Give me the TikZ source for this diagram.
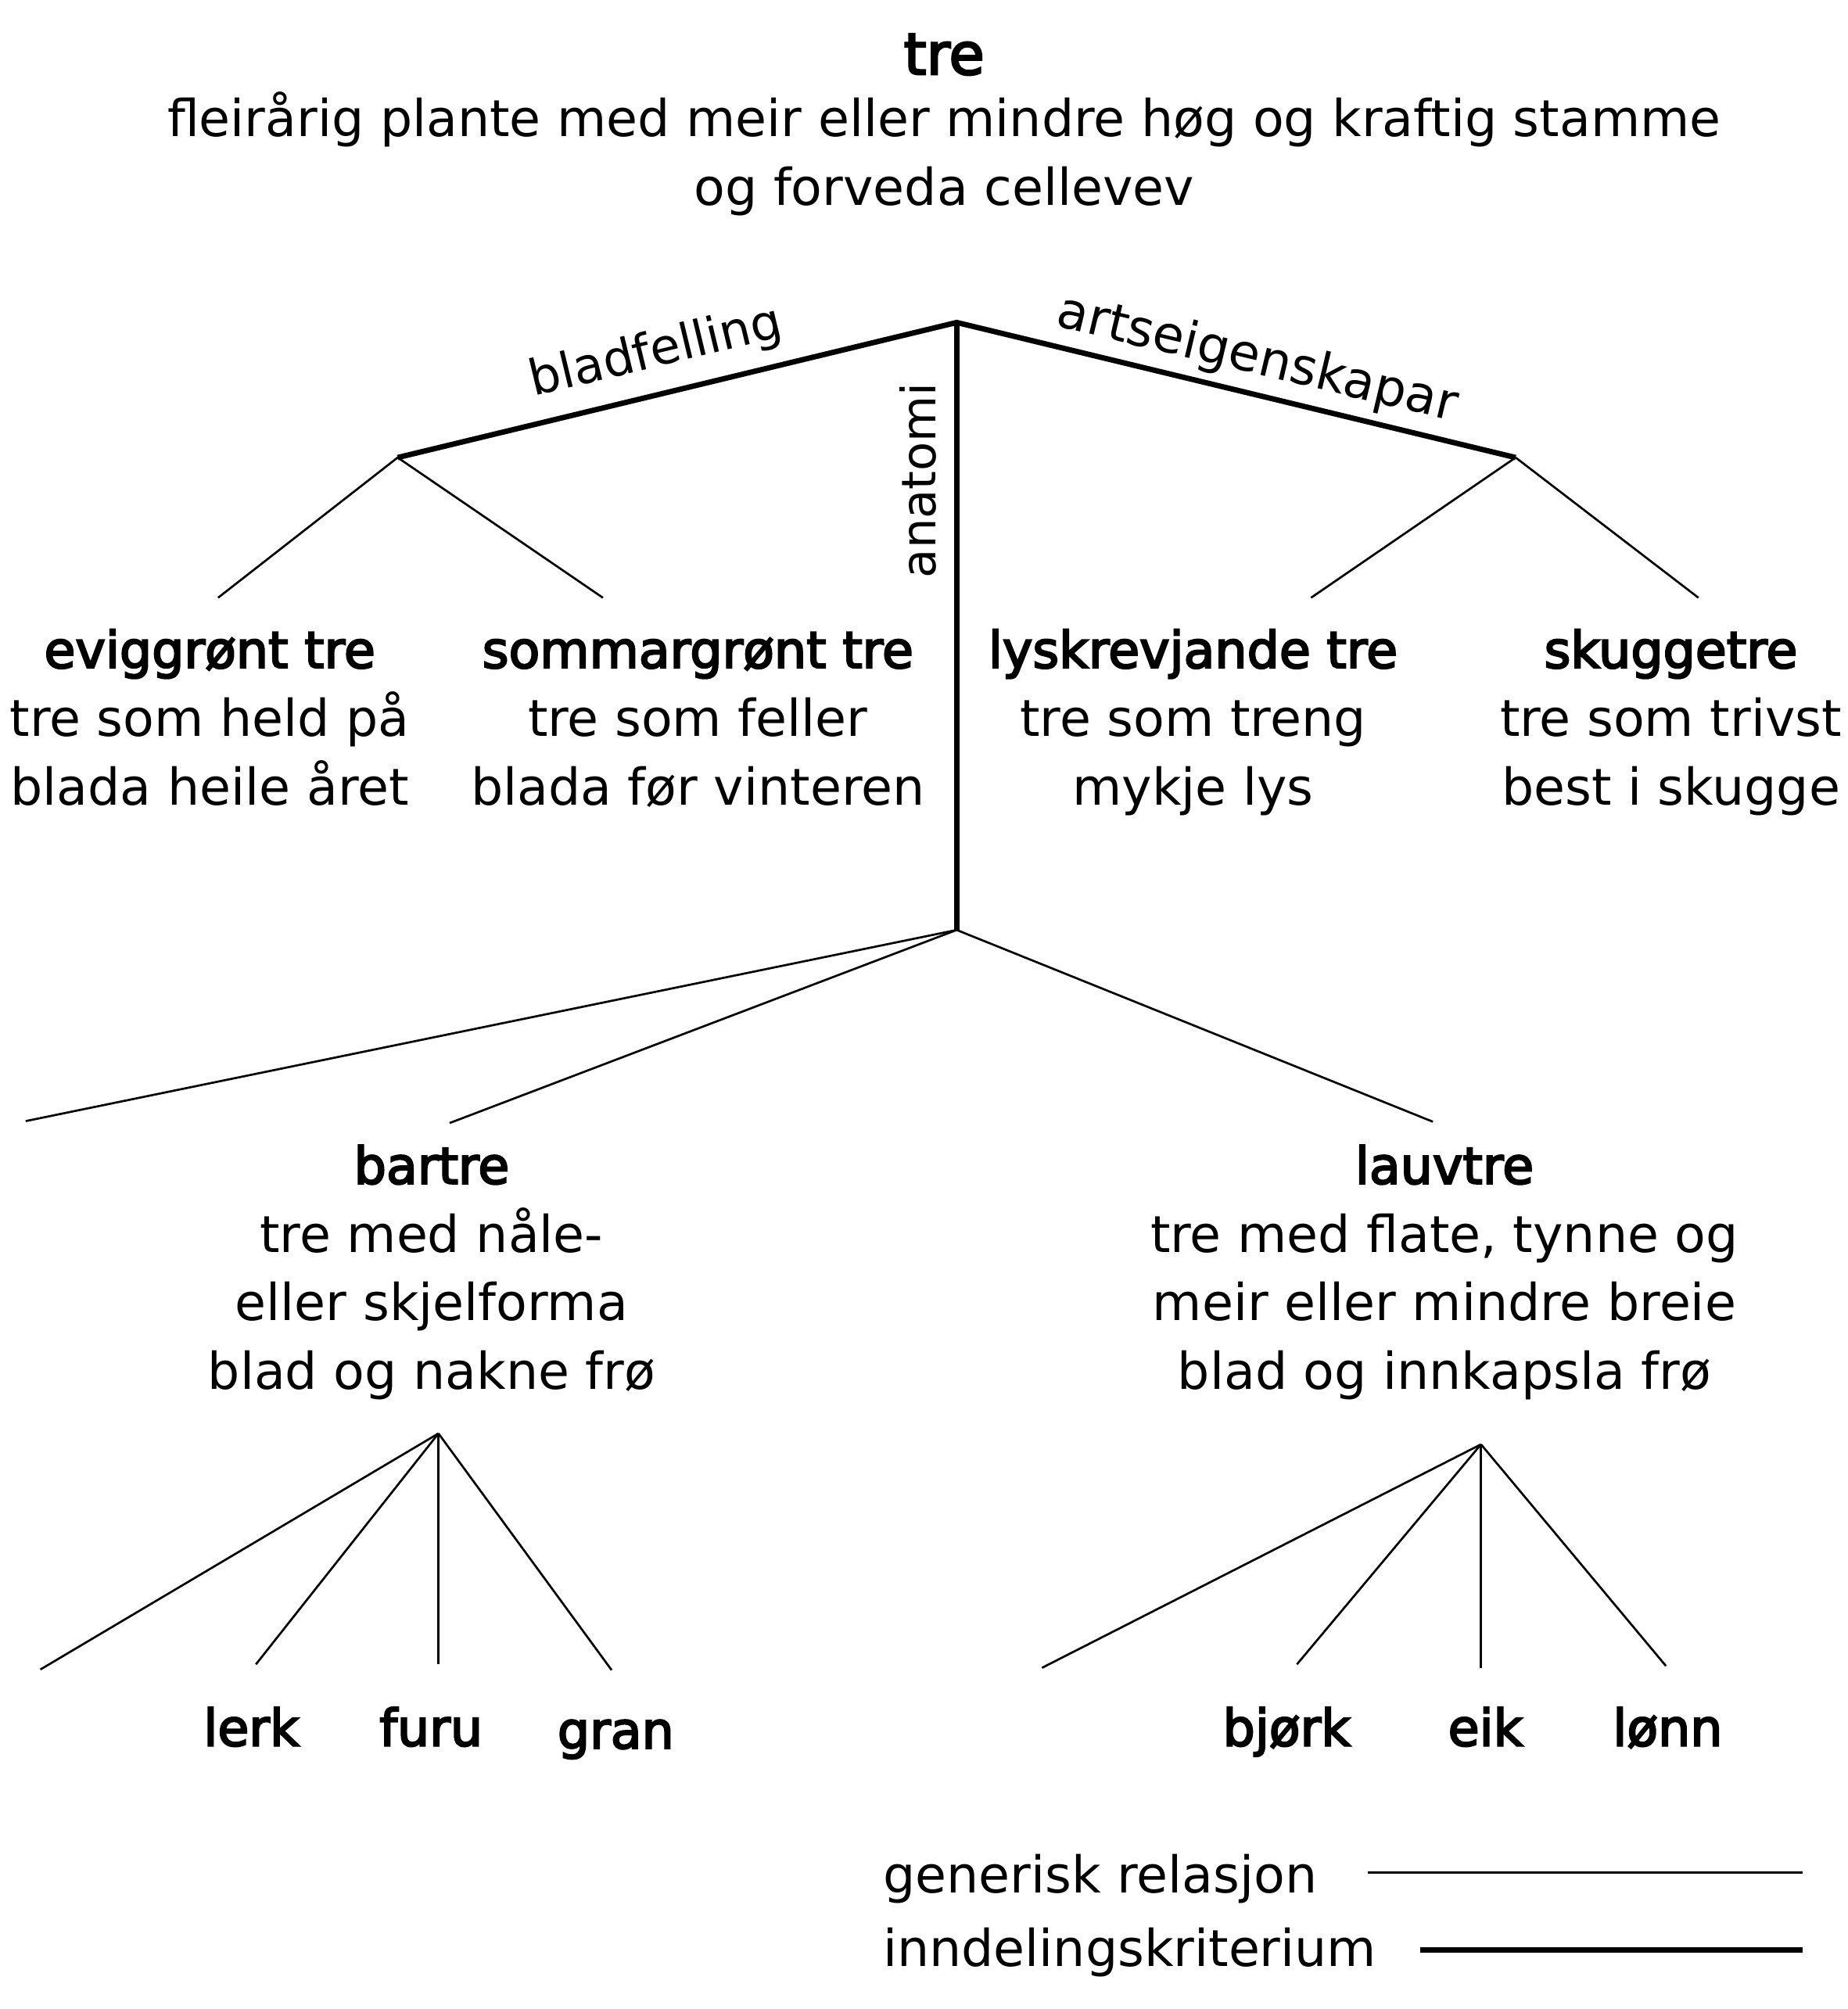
\documentclass[tikz,border=0pt]{standalone}
\usepackage{fontspec}
\setmainfont{DejaVu Sans}
\newfontfamily\hdfont[FakeBold=3.5]{DejaVu Sans}
\newcommand\hd[1]{{\hdfont #1}}
\begin{document}
\begin{tikzpicture}[x=0.5pt,y=-0.5pt,
  genrel/.style={line width=0.82pt},
  crit/.style={line width=2.1pt, line join=miter},
  txt/.style={font=\fontsize{19.8}{26.7}\selectfont, inner sep=0pt, align=center, anchor=base},
  lbl/.style={inner sep=0pt, anchor=base}]
\useasboundingbox (0,0) rectangle (1440,1566.2);
% points
\coordinate (R) at (745.8,251.4);
\coordinate (BL) at (310,356.7);
\coordinate (BR) at (1181.5,356.7);
\coordinate (A) at (745.8,725);
\coordinate (c1) at (170,466);
\coordinate (c2) at (470,466);
\coordinate (c3) at (1022,466);
\coordinate (c4) at (1324,466);
\coordinate (d1) at (20,874);
\coordinate (d2) at (350.5,875.5);
\coordinate (d3) at (1117,874.5);
\coordinate (B) at (341.8,1117.5);
\coordinate (e1) at (31.5,1301.5);
\coordinate (e2) at (199.5,1297.5);
\coordinate (e3) at (341.8,1297.5);
\coordinate (e4) at (476.8,1302);
\coordinate (L) at (1154.5,1126);
\coordinate (f1) at (812.3,1300.2);
\coordinate (f2) at (1011,1297.5);
\coordinate (f3) at (1154.5,1300.2);
\coordinate (f4) at (1298.7,1298.8);
\coordinate (g1) at (1066.5,1460);
\coordinate (g2) at (1405.5,1460);
\coordinate (h1) at (1107.2,1520);
\coordinate (h2) at (1405.5,1520);
% criteria
\draw[crit] (BL) -- (R) -- (BR);
\draw[crit] (R) -- (A);
% generic relations
\draw[genrel] (BL) -- (c1);
\draw[genrel] (BL) -- (c2);
\draw[genrel] (BR) -- (c3);
\draw[genrel] (BR) -- (c4);
\draw[genrel] (A) -- (d1);
\draw[genrel] (A) -- (d2);
\draw[genrel] (A) -- (d3);
\draw[genrel] (B) -- (e1);
\draw[genrel] (B) -- (e2);
\draw[genrel] (B) -- (e3);
\draw[genrel] (B) -- (e4);
\draw[genrel] (L) -- (f1);
\draw[genrel] (L) -- (f2);
\draw[genrel] (L) -- (f3);
\draw[genrel] (L) -- (f4);
% criterion labels
\node[lbl, font=\fontsize{19.2}{24}\selectfont, rotate=13.5] (lblad) at (513.8,285.6) {bladfelling};
\node[lbl, font=\fontsize{19.8}{24}\selectfont, rotate=-13.4] (lart) at (977.4,291.1) {artseigenskapar};
\node[lbl, font=\fontsize{18.5}{24}\selectfont, rotate=90] (lana) at (729.3,374.5) {anatomi};
% texts (base anchor = baseline of the last line)
\node[txt, font=\fontsize{22.5}{26.7}\selectfont] (tre) at (736,58) {\hd{tre}};
\node[txt] (tredef) at (736,159.8) {fleirårig plante med meir eller mindre høg og kraftig stamme\\og forveda cellevev};
\node[txt] (evig) at (163.5,627.5) {\hd{eviggrønt tre}\\tre som held på\\blada heile året};
\node[txt] (somm) at (544,627.5) {\hd{sommargrønt tre}\\tre som feller\\blada før vinteren};
\node[txt] (lysk) at (930,627.5) {\hd{lyskrevjande tre}\\tre som treng\\mykje lys};
\node[txt] (skug) at (1302.5,627.5) {\hd{skuggetre}\\tre som trivst\\best i skugge};
\node[txt] (bar) at (336.5,1083) {\hd{bartre}\\tre med nåle-\\eller skjelforma\\blad og nakne frø};
\node[txt] (lauv) at (1126,1083) {\hd{lauvtre}\\tre med flate, tynne og\\meir eller mindre breie\\blad og innkapsla frø};
\node[txt] (lerk) at (196,1361) {\hd{lerk}};
\node[txt] (furu) at (336,1361) {\hd{furu}};
\node[txt] (gran) at (480,1363) {\hd{gran}};
\node[txt] (bjork) at (1003,1361) {\hd{bjørk}};
\node[txt] (eik) at (1158,1361) {\hd{eik}};
\node[txt] (lonn) at (1300,1361) {\hd{lønn}};
% legend
\node[txt, anchor=base west] (leg1) at (688,1475.5) {generisk relasjon};
\node[txt, anchor=base west] (leg2) at (688,1533) {inndelingskriterium};
\draw[genrel] (g1) -- (g2);
\draw[crit] (h1) -- (h2);
\end{tikzpicture}
\end{document}
